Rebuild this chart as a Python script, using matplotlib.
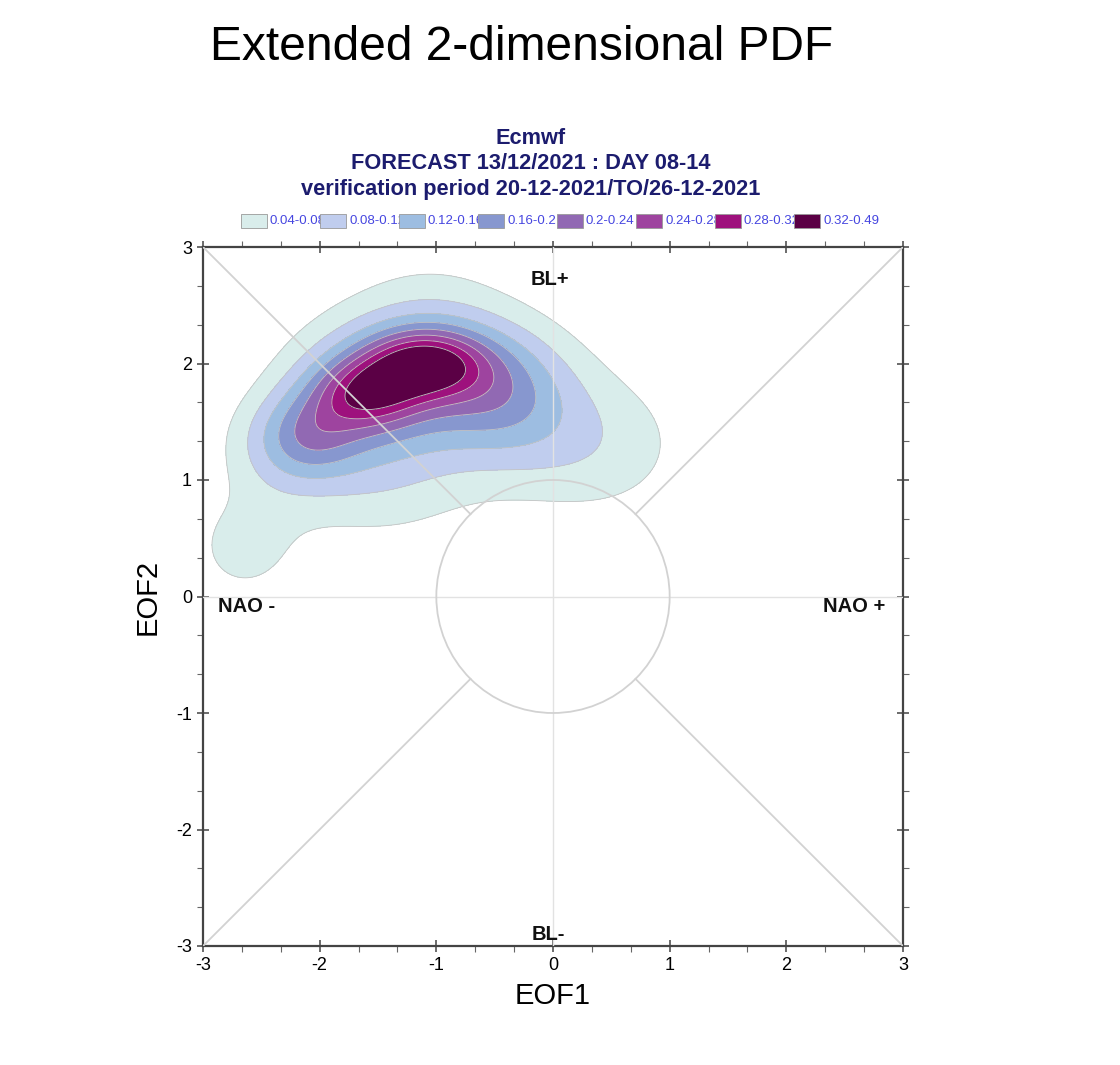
import numpy as np
import matplotlib
matplotlib.use('Agg')
import matplotlib.pyplot as plt
from matplotlib.patches import Circle, Rectangle
from matplotlib.ticker import MultipleLocator

plt.rcParams['font.family'] = ['Liberation Sans', 'DejaVu Sans']
plt.rcParams['axes.unicode_minus'] = False

# contour levels of the PDF and their colours
levels = [0.04, 0.08, 0.12, 0.16, 0.2, 0.24, 0.28, 0.32, 0.49]
level_labels = ['0.04-0.08', '0.08-0.12', '0.12-0.16', '0.16-0.2',
                '0.2-0.24', '0.24-0.28', '0.28-0.32', '0.32-0.49']
fill_colors = ['#d9edeb', '#c0cdee', '#9dbde1', '#8797cf',
               '#9169b3', '#9e449f', '#9e117d', '#5b0045']

# kernels of the estimated PDF in (EOF1, EOF2) space
kern_x = [-1.6, -1.1, -2.3, -1.75, -1.05, -0.3, 0.4, -2.65, -1.5, -0.5, -2.05]
kern_y = [1.75, 2.0, 1.3, 1.65, 1.9, 1.7, 1.3, 0.42, 0.85, 1.8, 1.42]
kern_sx = [0.3, 0.35, 0.35, 0.45, 0.5, 0.45, 0.55, 0.38, 0.6, 0.35, 0.28]
kern_sy = [0.2, 0.2, 0.3, 0.45, 0.53, 0.45, 0.45, 0.37, 0.35, 0.3, 0.25]
kern_amp = [0.14, 0.2, 0.08, 0.12, 0.14, 0.09, 0.06, 0.05, 0.035, 0.04, 0.06]

# regime names and where they sit
regions = ['BL+', 'NAO -', 'NAO +', 'BL-']
region_x = [-0.03, -2.63, 2.58, -0.04]
region_y = [2.72, -0.09, -0.09, -2.9]

titles = ['Ecmwf', 'FORECAST 13/12/2021 : DAY 08-14',
          'verification period 20-12-2021/TO/26-12-2021']

# evaluate the density on a grid
gx = np.linspace(-3, 3, 301)
X, Y = np.meshgrid(gx, gx)
Z = np.zeros_like(X)
for cx, cy, sx, sy, a in zip(kern_x, kern_y, kern_sx, kern_sy, kern_amp):
    Z += a * np.exp(-0.5 * (((X - cx) / sx) ** 2 + ((Y - cy) / sy) ** 2))

W, H = 1120, 1065
fig = plt.figure(figsize=(W / 100, H / 100), dpi=100)
ax = fig.add_axes([203 / W, 1 - 946 / H, 700 / W, 699 / H])

ax.contourf(X, Y, Z, levels=levels, colors=fill_colors, zorder=1)
ax.contour(X, Y, Z, levels=levels[:-1], colors='#c4c4c4', linewidths=0.6, zorder=2)

# reference lines: axes through origin, diagonals and unit circle
line_col = '#d2d2d2'
ax.axhline(0, color='#e2e2e2', lw=1.0, zorder=3)
ax.axvline(0, color='#e2e2e2', lw=1.0, zorder=3)
r = np.sqrt(0.5)
for sx_, sy_ in [(-1, 1), (1, 1), (-1, -1), (1, -1)]:
    ax.plot([3 * sx_, r * sx_], [3 * sy_, r * sy_], color=line_col, lw=1.3, zorder=3)
ax.add_patch(Circle((0, 0), 1, fill=False, edgecolor=line_col, lw=1.3, zorder=3))

for name, x, y in zip(regions, region_x, region_y):
    ax.text(x, y, name, ha='center', va='center', fontsize=14.5,
            fontweight='bold', color='#111111', zorder=4)

ax.set_xlim(-3, 3)
ax.set_ylim(-3, 3)
ax.xaxis.set_major_locator(MultipleLocator(1))
ax.yaxis.set_major_locator(MultipleLocator(1))
ax.xaxis.set_minor_locator(MultipleLocator(1 / 3))
ax.yaxis.set_minor_locator(MultipleLocator(1 / 3))
ax.tick_params(which='major', direction='inout', length=9, width=1.1,
               color='#444444', labelsize=13, top=True, right=True)
ax.tick_params(which='minor', direction='out', length=4, width=0.8,
               color='#666666', top=True, right=True)
for sp in ax.spines.values():
    sp.set_color('#444444')
    sp.set_linewidth(1.6)

ax.set_xlabel('EOF1', fontsize=21, labelpad=6)
ax.set_ylabel('EOF2', fontsize=21, labelpad=10)

fig.text(522 / W, 1 - 47 / H, 'Extended 2-dimensional PDF', ha='center',
         va='center', fontsize=34.5)
for i, t in enumerate(titles):
    fig.text(531 / W, 1 - (138 + 25.5 * i) / H, t, ha='center', va='center',
             fontsize=15.7, fontweight='bold', color='#1c1c6e')

# legend boxes along the top
for i, (lab, col) in enumerate(zip(level_labels, fill_colors)):
    bx = 241 + 79 * i
    fig.add_artist(Rectangle((bx / W, 1 - 228 / H), 26 / W, 14 / H,
                             transform=fig.transFigure, facecolor=col,
                             edgecolor='#999999', lw=0.6, zorder=5))
    fig.text((bx + 29) / W, 1 - 221 / H, lab, ha='left', va='center',
             fontsize=9.5, color='#4646e0', zorder=2)

fig.savefig('out.png', dpi=100)
